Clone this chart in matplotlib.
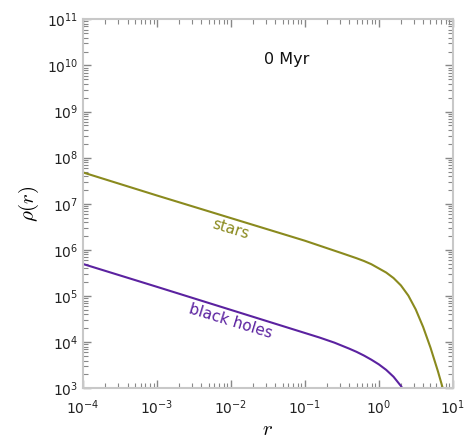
import matplotlib
matplotlib.use("Agg")
import matplotlib.pyplot as plt
import numpy as np

# values (log10 r, log10 rho)
stars_logr = [-4.0, -3.0, -2.0, -1.0, -0.5, -0.3, -0.2, -0.1, 0.0, 0.1, 0.2, 0.3, 0.4, 0.5, 0.6, 0.7, 0.8, 0.9]
stars_logrho = [7.68, 7.18, 6.69, 6.20, 5.93, 5.82, 5.76, 5.69, 5.60, 5.51, 5.39, 5.23, 5.01, 4.71, 4.33, 3.88, 3.37, 2.81]

bh_logr = [-4.0, -3.0, -2.0, -1.0, -0.8, -0.6, -0.4, -0.3, -0.2, -0.1, 0.0, 0.1, 0.2, 0.3, 0.35]
bh_logrho = [5.695, 5.20, 4.70, 4.20, 4.10, 3.99, 3.86, 3.79, 3.71, 3.62, 3.52, 3.40, 3.25, 3.05, 2.92]

time_label = "0 Myr"
stars_color = "#8a8a1e"
bh_color = "#5b22a0"

r_s = 10.0 ** np.array(stars_logr)
rho_s = 10.0 ** np.array(stars_logrho)
r_bh = 10.0 ** np.array(bh_logr)
rho_bh = 10.0 ** np.array(bh_logrho)

fig = plt.figure(figsize=(4.67, 4.41), dpi=100)
ax = fig.add_axes([83/467, 1-388.3/441, (452.7-83)/467, (388.3-19.3)/441])

ax.plot(r_s, rho_s, color=stars_color, lw=1.5)
ax.plot(r_bh, rho_bh, color=bh_color, lw=1.5)

ax.set_xscale("log")
ax.set_yscale("log")
ax.set_xlim(1e-4, 1e1)
ax.set_ylim(1e3, 1e11)

for sp in ax.spines.values():
    sp.set_color("#c8c8c8")
    sp.set_linewidth(1.5)

ax.tick_params(which="both", direction="in", top=True, right=True,
               color="#888888", labelsize=10, labelcolor="#222222")
ax.tick_params(which="major", length=6, width=1)
ax.tick_params(which="minor", length=3.5, width=0.8)
ax.tick_params(axis="x", pad=7)

ax.set_xlabel(r"$r$", fontsize=15, math_fontfamily="cm", labelpad=2)
ax.set_ylabel(r"$\rho(r)$", fontsize=15, math_fontfamily="cm", labelpad=4)

ax.text(0.55, 0.89, time_label, transform=ax.transAxes, fontsize=11.5,
        ha="center", va="center", color="#111111")
ax.text(0.0098, 2.8e6, "stars", color=stars_color, fontsize=11,
        rotation=-17, ha="center", va="center")
ax.text(0.0098, 2.8e4, "black holes", color=bh_color, fontsize=11,
        rotation=-17, ha="center", va="center")

fig.savefig("out.png", dpi=100)
